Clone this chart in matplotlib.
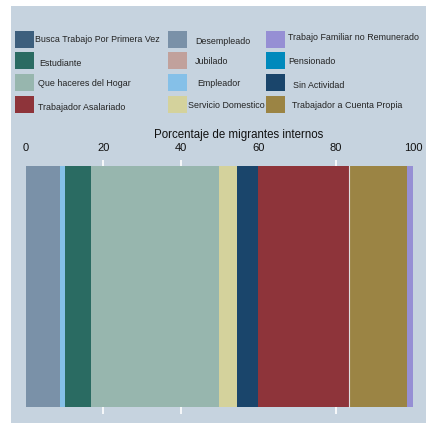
import matplotlib.pyplot as plt
from matplotlib.patches import Rectangle

plt.rcParams['font.family'] = ['Liberation Sans', 'DejaVu Sans']

W, H = 426, 423
BG = '#c6d3df'

# categorias en el orden de la barra (de izquierda a derecha)
bar_cats = ['Desempleado', 'Empleador', 'Estudiante', 'Que haceres del Hogar',
            'Servicio Domestico', 'Sin Actividad', 'Trabajador Asalariado',
            'Trabajador a Cuenta Propia', 'Trabajo Familiar no Remunerado']
bar_vals = [8.9, 1.2, 6.7, 33.1, 4.6, 5.4, 23.6, 14.9, 1.6]

# leyenda (columna por columna)
legend_cats = ['Busca Trabajo Por Primera Vez', 'Estudiante', 'Que haceres del Hogar',
               'Trabajador Asalariado', 'Desempleado', 'Jubilado', 'Empleador',
               'Servicio Domestico', 'Trabajo Familiar no Remunerado', 'Pensionado',
               'Sin Actividad', 'Trabajador a Cuenta Propia']

colors = {
    'Busca Trabajo Por Primera Vez': '#3d5f7d',
    'Estudiante': '#2a6b62',
    'Que haceres del Hogar': '#97b6ae',
    'Trabajador Asalariado': '#8e343a',
    'Desempleado': '#7a91a8',
    'Jubilado': '#c1a19c',
    'Empleador': '#85c0e8',
    'Servicio Domestico': '#d4d29c',
    'Trabajo Familiar no Remunerado': '#968fd4',
    'Pensionado': '#0089bc',
    'Sin Actividad': '#1a456b',
    'Trabajador a Cuenta Propia': '#9b8444',
}

xticks = [0, 20, 40, 60, 80, 100]
xlabel = 'Porcentaje de migrantes internos'

fig = plt.figure(figsize=(W / 100, H / 100), dpi=100)
fig.patch.set_facecolor('white')
fig.add_artist(Rectangle((11 / W, 0), 1 - 11 / W, 1 - 6 / H, transform=fig.transFigure,
                         facecolor=BG, edgecolor='none', zorder=0))

# ejes: x 0->26px, 100->413px ; y 160..414 px
ax = fig.add_axes([26 / W, 1 - 414 / H, (413 - 26) / W, (414 - 160) / H])
ax.set_facecolor('none')
ax.set_xlim(0, 100)
ax.set_ylim(0, 254)
for x in [20, 40, 80]:
    ax.axvline(x, color='white', lw=1.2, zorder=1)

left = 0
for cat, v in zip(bar_cats, bar_vals):
    ax.barh(127.5, v, left=left, height=241, color=colors[cat], zorder=2)
    left += v
# linea clara entre asalariado y cuenta propia
ax.axvline(sum(bar_vals[:7]), ymin=7 / 254, ymax=248 / 254, color='#e0e0e0', lw=0.8, zorder=3)

for s in ax.spines.values():
    s.set_visible(False)
ax.set_yticks([])
ax.xaxis.tick_top()
ax.xaxis.set_label_position('top')
ax.set_xticks(xticks)
ax.tick_params(axis='x', length=0, labelsize=8, pad=5, labelcolor='#111111')
ax.set_xlabel(xlabel, fontsize=8.3, color='#111111')
ax.xaxis.set_label_coords(0.549, (414 - 135) / 254)
ax.xaxis.label.set_va('center')

# leyenda manual: 3 columnas x 4 filas
col_x = [15, 168, 266]
row_y = [31, 52, 74, 96]
text_x = [[35, 39, 38, 38], [195, 195, 197, 188], [288, 288, 293, 292]]
text_y = [[40, 63, 83, 107], [41, 61, 83, 105], [37, 62, 86, 105]]
for i, cat in enumerate(legend_cats):
    c, r = divmod(i, 4)
    fig.add_artist(Rectangle((col_x[c] / W, 1 - (row_y[r] + 17) / H), 19 / W, 17 / H,
                             transform=fig.transFigure, facecolor=colors[cat],
                             edgecolor='none', zorder=1))
    fig.text(text_x[c][r] / W, 1 - text_y[c][r] / H, cat, fontsize=6.4,
             ha='left', va='center', color='#222222')

fig.savefig('out.png', dpi=100)
